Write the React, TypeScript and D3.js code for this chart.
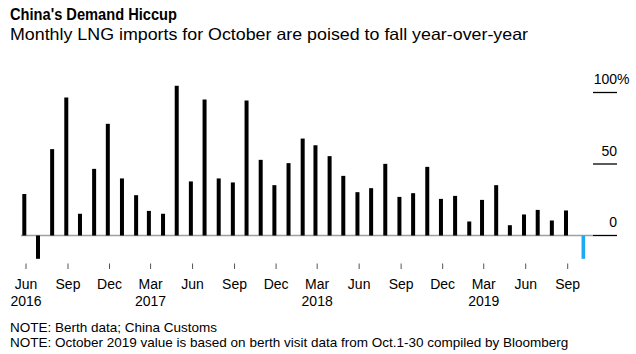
import * as React from 'react';
import * as d3 from 'd3';

// monthly LNG import growth, % year-over-year, Jun 2016 .. Sep 2019
const months = [
  '2016-06', '2016-07', '2016-08', '2016-09', '2016-10', '2016-11', '2016-12',
  '2017-01', '2017-02', '2017-03', '2017-04', '2017-05', '2017-06', '2017-07',
  '2017-08', '2017-09', '2017-10', '2017-11', '2017-12', '2018-01', '2018-02',
  '2018-03', '2018-04', '2018-05', '2018-06', '2018-07', '2018-08', '2018-09',
  '2018-10', '2018-11', '2018-12', '2019-01', '2019-02', '2019-03', '2019-04',
  '2019-05', '2019-06', '2019-07', '2019-08', '2019-09'
];
const values = [
  29, -16.3, 60.4, 96.5, 15.2, 46.6, 78.1,
  39.9, 28.2, 17.2, 15.2, 104.7, 37.8, 95.1,
  39.9, 37.1, 94.4, 52.9, 35.2, 50.6, 67.8,
  63.1, 55.5, 41.7, 30.3, 33.1, 50.1, 27.0,
  29.6, 48.0, 25.6, 27.7, 9.8, 24.9, 35.2,
  7.2, 14.7, 17.9, 10.5, 17.5
];
// October 2019 estimate from berth visit data (Oct. 1-30)
const estimateDate = '2019-10-09';
const estimateValue = -16.3;

const tickMonths = [
  '2016-06', '2016-09', '2016-12', '2017-03', '2017-06', '2017-09', '2017-12',
  '2018-03', '2018-06', '2018-09', '2018-12', '2019-03', '2019-06', '2019-09'
];
const yTicks = [0, 50, 100];
const notes = [
  'NOTE: Berth data; China Customs',
  'NOTE: October 2019 value is based on berth visit data from Oct.1-30 compiled by Bloomberg'
];

const monthNames = ['Jan', 'Feb', 'Mar', 'Apr', 'May', 'Jun', 'Jul', 'Aug', 'Sep', 'Oct', 'Nov', 'Dec'];
const parse = d3.timeParse('%Y-%m');
const font = '"Liberation Sans", Arial, Helvetica, sans-serif';

export default function App() {
  const ref = React.useRef<SVGSVGElement>(null);

  React.useEffect(() => {
    const svg = d3.select(ref.current);
    svg.selectAll('*').remove();

    const x = d3.scaleTime()
      .domain([parse('2016-06') as Date, parse('2019-09') as Date])
      .range([26, 567.7]);
    const y = d3.scaleLinear().domain([0, 100]).range([235.5, 92.5]);

    const data = months.map((m, i) => ({ date: parse(m) as Date, value: values[i] }));

    // titles
    svg.append('text')
      .attr('x', 10).attr('y', 20)
      .style('font-family', font).style('font-weight', 'bold').style('font-size', '17px')
      .attr('textLength', 167).attr('lengthAdjust', 'spacingAndGlyphs')
      .text("China's Demand Hiccup");
    svg.append('text')
      .attr('x', 10).attr('y', 40)
      .style('font-family', font).style('font-size', '16.5px')
      .attr('textLength', 518).attr('lengthAdjust', 'spacingAndGlyphs')
      .text('Monthly LNG imports for October are poised to fall year-over-year');

    // zero line under the bars
    svg.append('line')
      .attr('x1', 21).attr('x2', 593)
      .attr('y1', y(0)).attr('y2', y(0))
      .attr('stroke', '#a0a0a0').attr('stroke-width', 1.5);

    // right axis
    const yAxis = svg.append('g');
    yAxis.selectAll('line')
      .data(yTicks)
      .enter()
      .append('line')
      .attr('x1', 593).attr('x2', 617)
      .attr('y1', d => y(d)).attr('y2', d => y(d))
      .attr('stroke', '#000').attr('stroke-width', 1.3);
    yAxis.selectAll('text')
      .data(yTicks)
      .enter()
      .append('text')
      .attr('x', 617)
      .attr('y', d => y(d) - 8.5)
      .attr('text-anchor', 'end')
      .style('font-family', font).style('font-size', '14px')
      .text(d => String(d));
    yAxis.append('text')
      .attr('x', 617).attr('y', y(100) - 8.5)
      .style('font-family', font).style('font-size', '14px')
      .text('%');

    // bars
    svg.append('g')
      .selectAll('rect')
      .data(data)
      .enter()
      .append('rect')
      .attr('x', d => x(d.date) - 3.7)
      .attr('width', 4)
      .attr('y', d => y(Math.max(0, d.value)))
      .attr('height', d => Math.abs(y(d.value) - y(0)))
      .attr('fill', '#000');

    const est = parse(estimateDate.slice(0, 7)) as Date;
    est.setDate(+estimateDate.slice(8));
    svg.append('rect')
      .attr('x', x(est) - 3.5)
      .attr('width', 3.6)
      .attr('y', y(0))
      .attr('height', y(estimateValue) - y(0))
      .attr('fill', '#1ea9f5');

    // x axis
    const xAxis = svg.append('g');
    const ticks = tickMonths.map(m => parse(m) as Date);
    xAxis.selectAll('line')
      .data(ticks)
      .enter()
      .append('line')
      .attr('x1', d => x(d)).attr('x2', d => x(d))
      .attr('y1', 263.5).attr('y2', 269)
      .attr('stroke', '#555').attr('stroke-width', 1);
    xAxis.selectAll('text.month')
      .data(ticks)
      .enter()
      .append('text')
      .attr('class', 'month')
      .attr('x', d => x(d)).attr('y', 289)
      .attr('text-anchor', 'middle')
      .style('font-family', font).style('font-size', '14px')
      .text(d => monthNames[d.getMonth()]);
    xAxis.selectAll('text.year')
      .data(ticks.filter((d, i) => i === 0 || d.getMonth() === 2))
      .enter()
      .append('text')
      .attr('class', 'year')
      .attr('x', d => x(d)).attr('y', 305.5)
      .attr('text-anchor', 'middle')
      .style('font-family', font).style('font-size', '14px')
      .text(d => String(d.getFullYear()));

    // notes
    svg.selectAll('text.note')
      .data(notes)
      .enter()
      .append('text')
      .attr('class', 'note')
      .attr('x', 10)
      .attr('y', (d, i) => 331.5 + i * 15)
      .style('font-family', font).style('font-size', '13.5px')
      .text(d => d);
  }, []);

  return (
    <svg ref={ref} width={636} height={354}
      style={{ position: 'absolute', left: 0, top: 0, background: '#fff' }} />
  );
}
